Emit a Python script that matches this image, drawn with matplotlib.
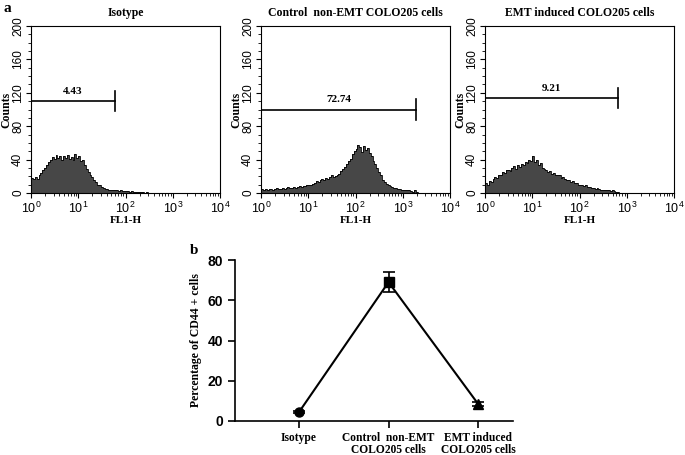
import numpy as np
import matplotlib
matplotlib.use("Agg")
from matplotlib import pyplot as plt
from matplotlib.ticker import LogFormatterMathtext, LogLocator, MultipleLocator, NullFormatter

# histogram counts, 25 bins per decade from 10^0 to 10^4
isotype_counts = [
    18, 17, 19, 17, 21, 24, 27, 30, 34, 37, 40, 43, 41, 46, 42, 44, 40, 44, 42, 45, 41, 43, 40, 47, 42,
    44, 38, 40, 33, 29, 25, 22, 19, 15, 13, 10, 9, 7, 6, 5, 5, 4, 4, 3, 3, 3, 2, 3, 2, 2,
    2, 2, 1.5, 2, 1, 1.5, 1, 1, 1, 1, 0.5, 1, 0.5, 0.5, 0.5, 0, 0.5, 0, 0.5, 0, 0, 0, 0, 0, 0,
    0, 0, 0, 0, 0, 0, 0, 0, 0, 0, 0, 0, 0, 0, 0, 0, 0, 0, 0, 0, 0, 0, 0, 0, 0,
]
control_counts = [
    5, 4, 5, 4, 5, 5, 4, 5, 6, 5, 5, 6, 5, 6, 7, 6, 6, 7, 6, 7, 8, 7, 8, 8, 9,
    10, 9, 11, 12, 14, 13, 16, 17, 15, 18, 17, 19, 21, 19, 20, 22, 23, 26, 29, 31, 35, 38, 41, 47, 50,
    53, 57, 55, 49, 56, 52, 54, 48, 44, 38, 35, 30, 25, 21, 16, 13, 11, 9, 8, 7, 6, 6, 5, 5, 4,
    4, 4, 3, 3, 2, 1, 3, 1, 0, 0, 0, 0, 0, 0, 0, 0, 0, 0, 0, 0, 0, 0, 0, 0, 0,
]
emt_counts = [
    12, 10, 14, 13, 17, 19, 18, 21, 22, 25, 24, 27, 28, 26, 30, 32, 29, 33, 31, 35, 34, 37, 36, 40, 38,
    44, 37, 39, 33, 36, 30, 29, 27, 25, 26, 23, 24, 22, 21, 22, 18, 19, 17, 15, 16, 13, 14, 12, 12, 10,
    10, 9, 8, 9, 7, 7, 6, 6, 5, 6, 5, 4, 4, 3, 4, 3, 2, 3, 2, 1, 1, 0.5, 0, 0, 0,
    0, 0, 0, 0, 0, 0, 0, 0, 0, 0, 0, 0, 0, 0, 0, 0, 0, 0, 0, 0, 0, 0, 0, 0, 0,
]
panel_titles = ["Isotype", "Control  non-EMT COLO205 cells", "EMT induced COLO205 cells"]
gate_labels = ["4.43", "72.74", "9.21"]
gate_level = [110, 100, 114]
gate_end = [60, 1900, 660]

# panel b
groups = ["Isotype", "Control  non-EMT\nCOLO205 cells", "EMT induced\nCOLO205 cells"]
cd44_pct = [4.43, 69.0, 8.5]
cd44_err = [0.5, 5.0, 1.0]

serif = ["Liberation Serif", "DejaVu Serif"]
sans = ["Liberation Sans", "DejaVu Sans"]

fig = plt.figure(figsize=(6.85, 4.55), dpi=100)

edges = np.logspace(0, 4, 101)
hist_data = [isotype_counts, control_counts, emt_counts]
lefts = [31, 261, 485]
for i in range(3):
    ax = fig.add_axes([lefts[i] / 685, 1 - 193 / 455, 189 / 685, 167 / 455])
    ax.stairs(hist_data[i], edges, fill=True, color="#474747")
    ax.stairs(hist_data[i], edges, color="black", lw=0.6)
    ax.set_xscale("log")
    ax.set_xlim(1, 1e4)
    ax.set_ylim(0, 200)
    ax.xaxis.set_major_locator(LogLocator(base=10))
    ax.xaxis.set_minor_locator(LogLocator(base=10, subs=np.arange(2, 10)))
    ax.xaxis.set_major_formatter(LogFormatterMathtext())
    ax.xaxis.set_minor_formatter(NullFormatter())
    ax.yaxis.set_major_locator(MultipleLocator(40))
    ax.yaxis.set_minor_locator(MultipleLocator(10))
    ax.tick_params(which="major", length=3.5, width=0.8, labelsize=9, pad=2)
    ax.tick_params(axis="y", which="major", labelsize=8.5, pad=1.5)
    ax.tick_params(which="minor", length=2, width=0.6)
    for lab in ax.get_yticklabels():
        lab.set_rotation(90)
        lab.set_va("center")
        lab.set_family(sans)
    for lab in ax.get_xticklabels():
        lab.set_family(sans)
    for s in ax.spines.values():
        s.set_linewidth(0.8)
    ax.set_title(panel_titles[i], fontfamily=serif, fontweight="bold", fontsize=8.5, pad=7)
    ax.set_xlabel("FL1-H", fontfamily=serif, fontweight="bold", fontsize=8, labelpad=0)
    ax.set_ylabel("Counts", fontfamily=serif, fontweight="bold", fontsize=8.5)
    ax.yaxis.set_label_coords(-0.1, 0.5)
    # gate marker
    ax.plot([1, gate_end[i]], [gate_level[i], gate_level[i]], color="black", lw=1.2)
    ax.plot([gate_end[i], gate_end[i]], [gate_level[i] - 12, gate_level[i] + 12], color="black", lw=1.2)
    mid = np.sqrt(gate_end[i])
    ax.text(mid, gate_level[i] + 6, gate_labels[i], ha="center", va="bottom",
            fontfamily=serif, fontweight="bold", fontsize=8)

fig.text(4 / 685, 1 - 12 / 455, "a", fontfamily=serif, fontweight="bold", fontsize=11)

# panel b
bx = fig.add_axes([235 / 685, 1 - 421 / 455, 278 / 685, 161 / 455])
xpos = np.arange(len(groups))
bx.plot(xpos, cd44_pct, color="black", lw=1.5, zorder=2)
bx.errorbar(xpos, cd44_pct, yerr=cd44_err, fmt="none", ecolor="black", elinewidth=1.2,
            capsize=4, capthick=1.2, zorder=3)
markers = ["o", "s", "^"]
for i in range(len(groups)):
    bx.plot(xpos[i], cd44_pct[i], marker=markers[i], color="black", ms=6.5, zorder=4)
bx.set_xlim(-0.715, 2.39)
bx.set_ylim(0, 80)
bx.yaxis.set_major_locator(MultipleLocator(20))
bx.set_xticks(xpos)
bx.set_xticklabels(groups, fontfamily=serif, fontweight="bold", fontsize=8.3, linespacing=1.0)
bx.tick_params(axis="x", length=5, width=1.2, pad=3)
bx.tick_params(axis="y", length=5, width=1.2, labelsize=10)
for lab in bx.get_yticklabels():
    lab.set_family(sans)
    lab.set_fontweight("bold")
bx.spines["top"].set_visible(False)
bx.spines["right"].set_visible(False)
bx.spines["left"].set_linewidth(1.2)
bx.spines["bottom"].set_linewidth(1.2)
bx.set_ylabel("Percentage of CD44 + cells", fontfamily=serif, fontweight="bold", fontsize=8.5)
fig.text(190 / 685, 1 - 254 / 455, "b", fontfamily=serif, fontweight="bold", fontsize=11)

fig.savefig("out.png", dpi=100)
